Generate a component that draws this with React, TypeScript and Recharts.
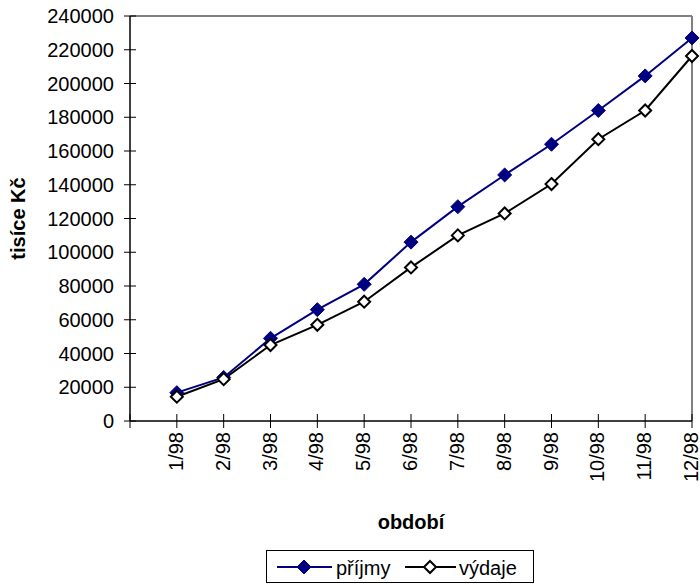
import React from 'react';
import { LineChart, Line, XAxis, YAxis, ReferenceLine } from 'recharts';

const categories = ['1/98', '2/98', '3/98', '4/98', '5/98', '6/98', '7/98', '8/98', '9/98', '10/98', '11/98', '12/98'];
const prijmy = [16800, 25800, 49000, 66000, 81000, 106000, 127000, 145800, 164000, 184000, 204500, 227000];
const vydaje = [14400, 24800, 45000, 57000, 70700, 91000, 110000, 123000, 140400, 167000, 184000, 216300];
const yTicks = [0, 20000, 40000, 60000, 80000, 100000, 120000, 140000, 160000, 180000, 200000, 220000, 240000];

const FONT = '"Liberation Sans", Arial, sans-serif';
const NAVY = '#000080';

const data = categories.map((name, i) => ({ x: i + 1, name, prijmy: prijmy[i], vydaje: vydaje[i] }));
const xTicks = [0, ...categories.map((_, i) => i + 1)];

function YTick({ x, y, payload }: any) {
    return (
        <g>
            <line x1={x - 6} x2={x + 6} y1={y} y2={y} stroke="#000" strokeWidth={1} />
            <text x={x - 16} y={y} dy="0.36em" textAnchor="end" fontSize={20} fontFamily={FONT} fill="#000">
                {payload.value}
            </text>
        </g>
    );
}

function XTick({ x, y, payload }: any) {
    const label = payload.value > 0 ? categories[payload.value - 1] : '';
    return (
        <g>
            <line x1={x} x2={x} y1={y - 7} y2={y + 7} stroke="#000" strokeWidth={1} />
            {label && (
                <text transform={`translate(${x + 6},${y + 11}) rotate(-90)`} textAnchor="end" fontSize={20} fontFamily={FONT} fill="#000">
                    {label}
                </text>
            )}
        </g>
    );
}

function diamond(cx: number, cy: number, r: number) {
    return `${cx},${cy - r} ${cx + r},${cy} ${cx},${cy + r} ${cx - r},${cy}`;
}

function LegendBox() {
    return (
        <div style={{ position: 'absolute', left: 266, top: 550, width: 268, height: 33, border: '1px solid #000', background: '#fff', boxSizing: 'border-box' }}>
            <svg width={268} height={33} style={{ position: 'absolute', left: -1, top: -1 }}>
                <line x1={11} x2={66} y1={17} y2={17} stroke={NAVY} strokeWidth={2} />
                <polygon points={diamond(38, 17, 7)} fill={NAVY} stroke={NAVY} />
                <text x={70} y={25} fontSize={20} fontFamily={FONT}>příjmy</text>
                <line x1={139} x2={190} y1={17} y2={17} stroke="#000" strokeWidth={2} />
                <polygon points={diamond(164, 17, 6)} fill="#fff" stroke="#000" strokeWidth={2} />
                <text x={193} y={25} fontSize={20} fontFamily={FONT}>výdaje</text>
            </svg>
        </div>
    );
}

export default function App() {
    return (
        <div style={{ position: 'absolute', left: 0, top: 0, width: 700, height: 585, background: '#fff' }}>
            <LineChart width={700} height={585} data={data} margin={{ top: 16, right: 8, left: 0, bottom: 0 }}>
                <XAxis
                    dataKey="x"
                    type="number"
                    domain={[0, 12]}
                    ticks={xTicks}
                    interval={0}
                    height={164}
                    tickSize={0}
                    tickMargin={0}
                    tickLine={false}
                    axisLine={{ stroke: '#000', strokeWidth: 1.5 }}
                    tick={<XTick />}
                    label={{
                        content: ({ viewBox }: any) => (
                            <text x={viewBox.x + viewBox.width / 2} y={viewBox.y + 108} textAnchor="middle" fontSize={20} fontWeight="bold" fontFamily={FONT}>
                                období
                            </text>
                        ),
                    }}
                />
                <YAxis
                    type="number"
                    domain={[0, 240000]}
                    ticks={yTicks}
                    interval={0}
                    width={130}
                    tickSize={0}
                    tickMargin={0}
                    tickLine={false}
                    axisLine={{ stroke: '#000', strokeWidth: 1.5 }}
                    tick={<YTick />}
                    label={{
                        content: ({ viewBox }: any) => (
                            <text transform={`translate(${viewBox.x + 25},${viewBox.y + viewBox.height / 2}) rotate(-90)`} textAnchor="middle" fontSize={20} fontWeight="bold" fontFamily={FONT}>
                                tisíce Kč
                            </text>
                        ),
                    }}
                />
                <ReferenceLine y={240000} stroke="#808080" strokeWidth={2} />
                <ReferenceLine x={12} stroke="#808080" strokeWidth={2} />
                <Line
                    dataKey="prijmy"
                    stroke={NAVY}
                    strokeWidth={2}
                    isAnimationActive={false}
                    dot={(p: any) => <polygon key={`p${p.index}`} points={diamond(p.cx, p.cy, 7)} fill={NAVY} stroke={NAVY} />}
                />
                <Line
                    dataKey="vydaje"
                    stroke="#000"
                    strokeWidth={2}
                    isAnimationActive={false}
                    dot={(p: any) => <polygon key={`v${p.index}`} points={diamond(p.cx, p.cy, 6)} fill="#fff" stroke="#000" strokeWidth={2} />}
                />
            </LineChart>
            <LegendBox />
        </div>
    );
}
